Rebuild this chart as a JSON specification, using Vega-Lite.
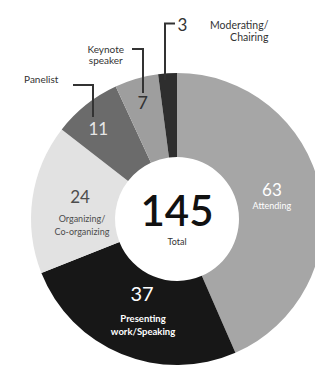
{
  "$schema": "https://vega.github.io/schema/vega-lite/v6.json",
  "width": 276,
  "height": 290,
  "autosize": {"type": "none"},
  "padding": {"left": 39, "top": 74, "right": 0, "bottom": 3},
  "background": "white",
  "config": {"view": {"stroke": null}, "text": {"font": "Lato"}},
  "datasets": {
    "slices": [
      {"cat": "Attending", "label": "Attending", "value": 63, "k": 1},
      {"cat": "Presenting work/Speaking", "label": "Presenting\nwork/Speaking", "value": 37, "k": 2},
      {"cat": "Organizing/Co-organizing", "label": "Organizing/\nCo-organizing", "value": 24, "k": 3},
      {"cat": "Panelist", "label": "Panelist", "value": 11, "k": 4},
      {"cat": "Keynote speaker", "label": "Keynote\nspeaker", "value": 7, "k": 5},
      {"cat": "Moderating/Chairing", "label": "Moderating/\nChairing", "value": 3, "k": 6}
    ],
    "leaders": [
      {"id": "m", "p": 1, "x": -2, "y": 195.5},
      {"id": "m", "p": 2, "x": -12, "y": 195.5},
      {"id": "m", "p": 3, "x": -12, "y": 139},
      {"id": "k", "p": 1, "x": -45, "y": 170},
      {"id": "k", "p": 2, "x": -34, "y": 170},
      {"id": "k", "p": 3, "x": -34, "y": 126},
      {"id": "p", "p": 1, "x": -104, "y": 134},
      {"id": "p", "p": 2, "x": -84, "y": 134},
      {"id": "p", "p": 3, "x": -84, "y": 102}
    ]
  },
  "data": {"name": "slices"},
  "layer": [
    {
      "mark": {"type": "arc", "innerRadius": 62, "outerRadius": 146},
      "encoding": {
        "theta": {"field": "value", "type": "quantitative", "stack": true},
        "color": {
          "field": "cat", "type": "nominal", "legend": null,
          "scale": {
            "domain": ["Attending", "Presenting work/Speaking", "Organizing/Co-organizing", "Panelist", "Keynote speaker", "Moderating/Chairing"],
            "range": ["#a6a6a6", "#171717", "#e2e2e2", "#6b6b6b", "#9e9e9e", "#2e2e2e"]
          }
        },
        "order": {"field": "k", "type": "quantitative"}
      }
    },
    {
      "mark": {"type": "text", "radius": 100, "dx": -3, "dy": -8, "fontSize": 17, "color": "white", "baseline": "middle"},
      "encoding": {
        "theta": {"field": "value", "type": "quantitative", "stack": true},
        "detail": {"field": "cat"}, "order": {"field": "k", "type": "quantitative"},
        "text": {"field": "value", "type": "quantitative"},
        "opacity": {"condition": {"test": "datum.k == 1", "value": 1}, "value": 0}
      }
    },
    {
      "mark": {"type": "text", "radius": 100, "dx": 2, "dy": -7, "fontSize": 17, "color": "#4d4d4d", "baseline": "middle"},
      "encoding": {
        "theta": {"field": "value", "type": "quantitative", "stack": true},
        "detail": {"field": "cat"}, "order": {"field": "k", "type": "quantitative"},
        "text": {"field": "value", "type": "quantitative"},
        "opacity": {"condition": {"test": "datum.k == 3", "value": 1}, "value": 0}
      }
    },
    {
      "mark": {"type": "text", "radius": 92, "dy": -9, "fontSize": 20, "color": "white", "baseline": "middle"},
      "encoding": {
        "theta": {"field": "value", "type": "quantitative", "stack": true},
        "detail": {"field": "cat"}, "order": {"field": "k", "type": "quantitative"},
        "text": {"field": "value", "type": "quantitative"},
        "opacity": {"condition": {"test": "datum.k == 2", "value": 1}, "value": 0}
      }
    },
    {
      "mark": {"type": "text", "radius": 120, "dx": -4, "dy": 5, "fontSize": 17, "color": "#e6e6e6", "baseline": "middle"},
      "encoding": {
        "theta": {"field": "value", "type": "quantitative", "stack": true},
        "detail": {"field": "cat"}, "order": {"field": "k", "type": "quantitative"},
        "text": {"field": "value", "type": "quantitative"},
        "opacity": {"condition": {"test": "datum.k == 4", "value": 1}, "value": 0}
      }
    },
    {
      "mark": {"type": "text", "radius": 120, "dx": -1, "dy": 0, "fontSize": 18, "color": "#333333", "baseline": "middle"},
      "encoding": {
        "theta": {"field": "value", "type": "quantitative", "stack": true},
        "detail": {"field": "cat"}, "order": {"field": "k", "type": "quantitative"},
        "text": {"field": "value", "type": "quantitative"},
        "opacity": {"condition": {"test": "datum.k == 5", "value": 1}, "value": 0}
      }
    },
    {
      "mark": {"type": "text", "radius": 194, "dx": 18, "dy": 1, "fontSize": 17, "color": "#333333", "baseline": "middle"},
      "encoding": {
        "theta": {"field": "value", "type": "quantitative", "stack": true},
        "detail": {"field": "cat"}, "order": {"field": "k", "type": "quantitative"},
        "text": {"field": "value", "type": "quantitative"},
        "opacity": {"condition": {"test": "datum.k == 6", "value": 1}, "value": 0}
      }
    },
    {
      "mark": {"type": "text", "radius": 100, "dx": -3, "dy": 7, "fontSize": 9, "color": "white", "baseline": "middle"},
      "encoding": {
        "theta": {"field": "value", "type": "quantitative", "stack": true},
        "detail": {"field": "cat"}, "order": {"field": "k", "type": "quantitative"},
        "text": {"field": "label"},
        "opacity": {"condition": {"test": "datum.k == 1", "value": 1}, "value": 0}
      }
    },
    {
      "mark": {"type": "text", "radius": 100, "dx": 4, "dy": 14, "fontSize": 9, "lineHeight": 13, "lineBreak": "\n", "color": "#4d4d4d", "baseline": "middle"},
      "encoding": {
        "theta": {"field": "value", "type": "quantitative", "stack": true},
        "detail": {"field": "cat"}, "order": {"field": "k", "type": "quantitative"},
        "text": {"field": "label"},
        "opacity": {"condition": {"test": "datum.k == 3", "value": 1}, "value": 0}
      }
    },
    {
      "mark": {"type": "text", "radius": 92, "dx": 1, "dy": 15, "fontSize": 9.5, "lineHeight": 13, "lineBreak": "\n", "color": "white", "fontWeight": "bold", "baseline": "middle"},
      "encoding": {
        "theta": {"field": "value", "type": "quantitative", "stack": true},
        "detail": {"field": "cat"}, "order": {"field": "k", "type": "quantitative"},
        "text": {"field": "label"},
        "opacity": {"condition": {"test": "datum.k == 2", "value": 1}, "value": 0}
      }
    },
    {
      "mark": {"type": "text", "radius": 194, "dx": 104, "dy": 1, "fontSize": 10.5, "lineHeight": 12, "lineBreak": "\n", "align": "right", "color": "#333333", "baseline": "middle"},
      "encoding": {
        "theta": {"field": "value", "type": "quantitative", "stack": true},
        "detail": {"field": "cat"}, "order": {"field": "k", "type": "quantitative"},
        "text": {"field": "label"},
        "opacity": {"condition": {"test": "datum.k == 6", "value": 1}, "value": 0}
      }
    },
    {
      "mark": {"type": "text", "radius": 170, "dx": -24, "dy": -6, "fontSize": 10, "lineHeight": 11, "lineBreak": "\n", "color": "#333333", "baseline": "middle"},
      "encoding": {
        "theta": {"field": "value", "type": "quantitative", "stack": true},
        "detail": {"field": "cat"}, "order": {"field": "k", "type": "quantitative"},
        "text": {"field": "label"},
        "opacity": {"condition": {"test": "datum.k == 5", "value": 1}, "value": 0}
      }
    },
    {
      "mark": {"type": "text", "radius": 170, "dx": -30, "dy": -6, "fontSize": 10, "color": "#333333", "baseline": "middle"},
      "encoding": {
        "theta": {"field": "value", "type": "quantitative", "stack": true},
        "detail": {"field": "cat"}, "order": {"field": "k", "type": "quantitative"},
        "text": {"field": "label"},
        "opacity": {"condition": {"test": "datum.k == 4", "value": 1}, "value": 0}
      }
    },
    {
      "transform": [{"aggregate": [{"op": "sum", "field": "value", "as": "total"}]}],
      "mark": {"type": "text", "dy": -6, "fontSize": 42, "fontWeight": 600, "color": "#111111", "baseline": "middle"},
      "encoding": {"text": {"field": "total", "type": "quantitative"}}
    },
    {
      "transform": [{"aggregate": [{"op": "sum", "field": "value", "as": "total"}]}],
      "mark": {"type": "text", "dy": 23, "fontSize": 9, "color": "#333333", "baseline": "middle", "text": "Total"},
      "encoding": {}
    },
    {
      "data": {"name": "leaders"},
      "mark": {"type": "line", "color": "#333333", "strokeWidth": 2, "strokeJoin": "miter", "strokeCap": "butt"},
      "encoding": {
        "x": {"field": "x", "type": "quantitative", "scale": {"domain": [-138, 138], "nice": false, "zero": false}, "axis": null},
        "y": {"field": "y", "type": "quantitative", "scale": {"domain": [-145, 145], "nice": false, "zero": false}, "axis": null},
        "detail": {"field": "id"},
        "order": {"field": "p", "type": "quantitative"}
      }
    }
  ]
}
